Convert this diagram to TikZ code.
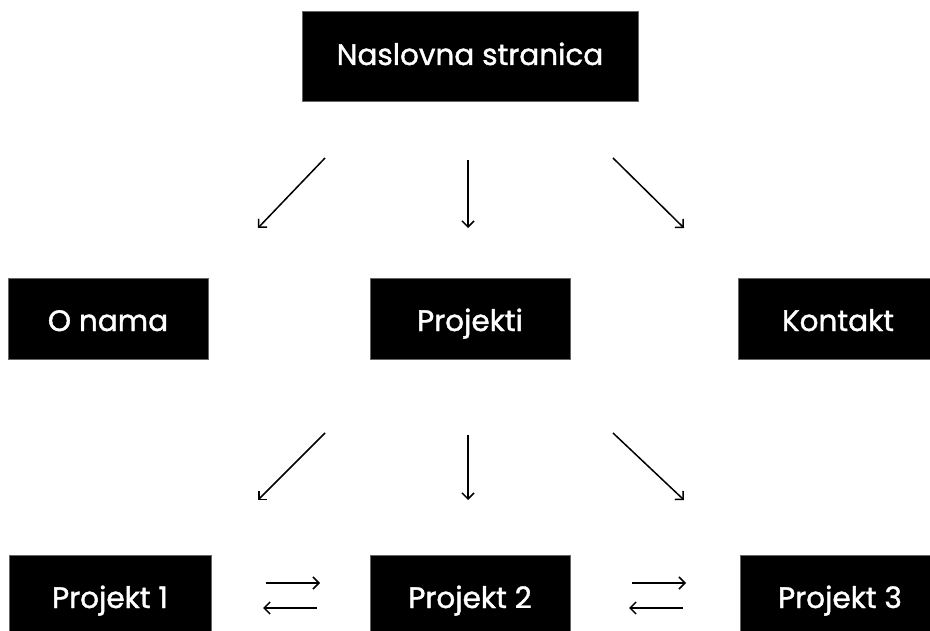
\documentclass[tikz,border=0pt]{standalone}
\usepackage{fontspec}
\setmainfont{Poppins}[FakeBold=1.3]
\usetikzlibrary{arrows.meta}
\begin{document}
\begin{tikzpicture}[x=1pt,y=-1pt,
  box/.style={fill=black,draw=black!60,line width=0.6pt},
  lbl/.style={text=white,font=\fontsize{29.5}{32}\selectfont,anchor=base,inner sep=0pt},
  conn/.style={line width=1.5pt,-{Straight Barb[length=6pt,width=12pt,line width=1.5pt]}}]
\useasboundingbox (0,0) rectangle (930,631);
\begin{scope}
\clip (0,0) rectangle (930,631);
\path[box] (302,11) rectangle (638,101);
\node[lbl] (top) at (470,65) {Naslovna stranica};
\path[box] (8,278) rectangle (208,359);
\node[lbl] (onama) at (108,331) {O nama};
\path[box] (370,278) rectangle (570,359);
\node[lbl] (proj) at (470,331) {Projekti};
\path[box] (738,278) rectangle (938,359);
\node[lbl] (kont) at (838,331) {Kontakt};
\path[box] (9,555) rectangle (211,638);
\node[lbl] (p1) at (110,608) {Projekt 1};
\path[box] (370,555) rectangle (570,638);
\node[lbl] (p2) at (470,608) {Projekt 2};
\path[box] (740,555) rectangle (940,638);
\node[lbl] (p3) at (840,608) {Projekt 3};
\end{scope}
\coordinate (a1s) at (325,158); \coordinate (a1e) at (258,228);
\coordinate (a2s) at (468,160); \coordinate (a2e) at (468,228);
\coordinate (a3s) at (613,158); \coordinate (a3e) at (684,228);
\coordinate (b1s) at (325,433); \coordinate (b1e) at (258,500);
\coordinate (b2s) at (468,435); \coordinate (b2e) at (468,500);
\coordinate (b3s) at (613,433); \coordinate (b3e) at (684,500);
\coordinate (h1s) at (266,583); \coordinate (h1e) at (320,583);
\coordinate (h2s) at (317,608); \coordinate (h2e) at (263,608);
\coordinate (h3s) at (632,583); \coordinate (h3e) at (686,583);
\coordinate (h4s) at (683,608); \coordinate (h4e) at (629,608);
\foreach \s/\e in {a1s/a1e,a2s/a2e,a3s/a3e,b1s/b1e,b2s/b2e,b3s/b3e,h1s/h1e,h2s/h2e,h3s/h3e,h4s/h4e}
  \draw[conn] (\s) -- (\e);
\end{tikzpicture}
\end{document}
